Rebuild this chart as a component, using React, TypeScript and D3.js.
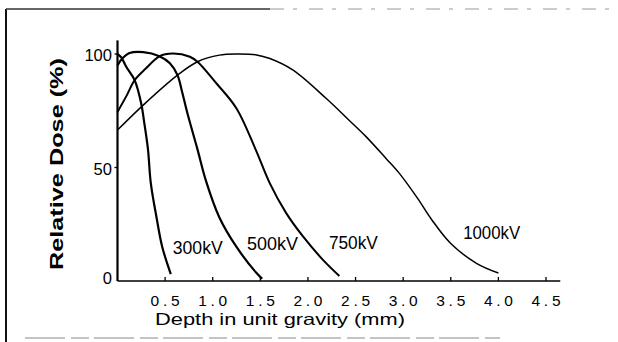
import { useRef, useEffect } from "react"
import * as d3 from "d3"

// depth (mm) vs relative dose (%)
const kv300 = [
  [0, 100], [0.04, 98.5], [0.09, 94.5], [0.18, 88.5], [0.25, 78], [0.28, 70],
  [0.32, 58], [0.35, 43], [0.41, 28], [0.47, 15], [0.56, 3],
]
const kv500 = [
  [0, 95], [0.05, 98], [0.12, 100.3], [0.27, 100.8], [0.44, 99], [0.55, 95.9],
  [0.63, 90.7], [0.68, 83], [0.74, 73], [0.84, 58], [0.93, 44],
  [1.07, 28], [1.25, 15], [1.46, 3.5], [1.52, 1],
]
const kv750 = [
  [0, 74.5], [0.1, 82], [0.18, 88.5], [0.3, 93.7], [0.44, 99], [0.58, 100.2],
  [0.76, 98.8], [0.84, 96.6], [1.04, 87], [1.25, 76], [1.45, 58], [1.6, 43],
  [1.77, 30], [1.95, 19.5], [2.16, 9.2], [2.33, 2.2],
]
const kv1000 = [
  [0, 66.5], [0.27, 77.5], [0.63, 90.7], [0.84, 96.6], [1.07, 99.5], [1.25, 100],
  [1.46, 99.6], [1.6, 98], [1.84, 93], [2.19, 80.5], [2.44, 70.5], [2.61, 63.6],
  [2.82, 54], [2.96, 47.4], [3.15, 36.5], [3.3, 27], [3.5, 16.5], [3.77, 7.8], [4.0, 3.5],
]

const seriesNames = ["300kV", "500kV", "750kV", "1000kV"]
const seriesData = [kv300, kv500, kv750, kv1000]
// where each curve's label sits (depth, dose) and its drawn length
const labelAt = [[0.58, 12], [1.36, 13.5], [2.22, 14], [3.63, 18.5]]
const labelLen = [50, 51, 49, 57]
const lineWidths = [2.2, 2.2, 2, 1.5]

const xTicks = [0.5, 1.0, 1.5, 2.0, 2.5, 3.0, 3.5, 4.0, 4.5]
const yTicks = [0, 50, 100]

export default function App() {
  const svgRef = useRef<SVGSVGElement>(null)

  useEffect(() => {
    if (!svgRef.current) return
    const svg = d3.select(svgRef.current)
    svg.selectAll("*").remove()

    const x = d3.scaleLinear().domain([0, 4.5]).range([117.5, 546])
    const y = d3.scaleLinear().domain([0, 100]).range([281, 54])
    const font = "'Liberation Sans', Arial, sans-serif"

    // scanned page frame
    svg.append("line").attr("x1", 6).attr("x2", 6).attr("y1", 9).attr("y2", 342)
      .attr("stroke", "#111").attr("stroke-width", 2)
    svg.append("line").attr("x1", 6).attr("x2", 270).attr("y1", 9).attr("y2", 9)
      .attr("stroke", "#333").attr("stroke-width", 1.5)
    svg.append("line").attr("x1", 270).attr("x2", 612).attr("y1", 9).attr("y2", 9)
      .attr("stroke", "#999").attr("stroke-width", 1).attr("stroke-dasharray", "14 9 4 12")
    svg.append("line").attr("x1", 25).attr("x2", 500).attr("y1", 338).attr("y2", 338)
      .attr("stroke", "#888").attr("stroke-width", 1).attr("stroke-dasharray", "40 6 18 5")

    // axes
    svg.append("line").attr("x1", x(0)).attr("x2", x(0)).attr("y1", y(106)).attr("y2", y(0))
      .attr("stroke", "#000").attr("stroke-width", 2.2)
    svg.append("line").attr("x1", x(0)).attr("x2", x(4.65)).attr("y1", y(0)).attr("y2", y(0))
      .attr("stroke", "#000").attr("stroke-width", 1.6)

    svg.append("g").selectAll("line").data(xTicks).join("line")
      .attr("x1", (d) => x(d)).attr("x2", (d) => x(d))
      .attr("y1", y(0)).attr("y2", y(0) - 4)
      .attr("stroke", "#000").attr("stroke-width", 1.3)

    svg.append("g").selectAll("text").data(xTicks).join("text")
      .attr("x", (d) => x(d)).attr("y", 306)
      .attr("text-anchor", "middle")
      .attr("font-family", font).attr("font-size", 15.5)
      .attr("textLength", 29).attr("lengthAdjust", "spacing")
      .text((d) => d.toFixed(1))

    svg.append("g").selectAll("line").data(yTicks.slice(1)).join("line")
      .attr("x1", x(0) - 3).attr("x2", x(0))
      .attr("y1", (d) => y(d)).attr("y2", (d) => y(d))
      .attr("stroke", "#000").attr("stroke-width", 1.3)

    svg.append("g").selectAll("text").data(yTicks).join("text")
      .attr("x", 112).attr("y", (d) => y(d) + 7 - (d === 0 ? 4 : 0))
      .attr("text-anchor", "end")
      .attr("font-family", font).attr("font-size", 16)
      .attr("textLength", (d) => String(d).length * 9.2)
      .attr("lengthAdjust", "spacingAndGlyphs")
      .text((d) => d)

    // axis titles
    svg.append("text")
      .attr("x", 280).attr("y", 325)
      .attr("text-anchor", "middle")
      .attr("font-family", font).attr("font-size", 16.5)
      .attr("textLength", 250).attr("lengthAdjust", "spacingAndGlyphs")
      .text("Depth in unit gravity (mm)")

    svg.append("text")
      .attr("transform", "translate(63, 164) rotate(-90)")
      .attr("text-anchor", "middle")
      .attr("font-family", font).attr("font-size", 17.5).attr("font-weight", "bold")
      .attr("textLength", 212).attr("lengthAdjust", "spacingAndGlyphs")
      .text("Relative Dose (%)")

    // curves
    const line = d3.line<number[]>()
      .x((d) => x(d[0]))
      .y((d) => y(d[1]))
      .curve(d3.curveCatmullRom.alpha(0.5))

    svg.append("g").selectAll("path").data(seriesData).join("path")
      .attr("d", (d) => line(d))
      .attr("fill", "none")
      .attr("stroke", "#000")
      .attr("stroke-width", (d, i) => lineWidths[i])
      .attr("stroke-linejoin", "round")

    svg.append("g").selectAll("text").data(seriesNames).join("text")
      .attr("x", (d, i) => x(labelAt[i][0]))
      .attr("y", (d, i) => y(labelAt[i][1]))
      .attr("font-family", font).attr("font-size", 18)
      .attr("textLength", (d, i) => labelLen[i])
      .attr("lengthAdjust", "spacingAndGlyphs")
      .text((d) => d)
  }, [])

  return (
    <svg
      ref={svgRef}
      width={618}
      height={342}
      style={{ position: "absolute", left: 0, top: 0, background: "#fff" }}
    />
  )
}
